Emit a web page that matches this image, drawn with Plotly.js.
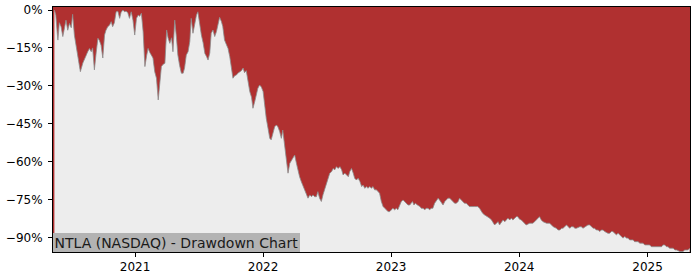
<!DOCTYPE html>
<html>
<head>
<meta charset="utf-8">
<script src="https://cdn.plot.ly/plotly-3.0.1.min.js"></script>
<style>html,body{margin:0;padding:0;background:#fff;}#chart{width:700px;height:280px;}</style>
</head>
<body>
<div id="chart"></div>
<script>
const dates = [
"2020-05-16","2020-05-20","2020-05-24","2020-05-26","2020-05-30","2020-06-04","2020-06-09","2020-06-14","2020-06-18","2020-06-23",
"2020-06-28","2020-07-03","2020-07-07","2020-07-12","2020-07-17","2020-07-22","2020-07-29","2020-08-05","2020-08-14","2020-08-19",
"2020-08-24","2020-08-29","2020-09-02","2020-09-07","2020-09-12","2020-09-17","2020-09-21","2020-09-26","2020-10-01","2020-10-06",
"2020-10-10","2020-10-15","2020-10-20","2020-10-25","2020-10-29","2020-11-03","2020-11-08","2020-11-13","2020-11-18","2020-11-22",
"2020-11-27","2020-12-02","2020-12-06","2020-12-11","2020-12-16","2020-12-21","2020-12-26","2020-12-31","2021-01-05","2021-01-10",
"2021-01-14","2021-01-19","2021-01-24","2021-01-29","2021-02-03","2021-02-07","2021-02-12","2021-02-16","2021-02-21","2021-02-26",
"2021-03-03","2021-03-08","2021-03-12","2021-03-17","2021-03-22","2021-03-27","2021-04-01","2021-04-05","2021-04-10","2021-04-15",
"2021-04-19","2021-04-24","2021-04-29","2021-05-03","2021-05-08","2021-05-13","2021-05-18","2021-05-22","2021-05-27","2021-06-01",
"2021-06-06","2021-06-10","2021-06-15","2021-06-20","2021-06-25","2021-06-29","2021-07-04","2021-07-09","2021-07-14","2021-07-19",
"2021-07-24","2021-07-28","2021-08-02","2021-08-06","2021-08-11","2021-08-16","2021-08-21","2021-08-25","2021-08-30","2021-09-04",
"2021-09-08","2021-09-13","2021-09-18","2021-09-23","2021-09-28","2021-10-03","2021-10-07","2021-10-12","2021-10-17","2021-10-21",
"2021-10-26","2021-10-31","2021-11-05","2021-11-09","2021-11-14","2021-11-19","2021-11-24","2021-11-29","2021-12-03","2021-12-08",
"2021-12-13","2021-12-17","2021-12-22","2021-12-27","2022-01-01","2022-01-05","2022-01-10","2022-01-15","2022-01-20","2022-01-24",
"2022-01-29","2022-02-03","2022-02-08","2022-02-12","2022-02-17","2022-02-22","2022-02-26","2022-03-04","2022-03-09","2022-03-13",
"2022-03-18","2022-03-23","2022-03-28","2022-04-01","2022-04-06","2022-04-10","2022-04-15","2022-04-20","2022-04-25","2022-04-29",
"2022-05-04","2022-05-09","2022-05-14","2022-05-19","2022-05-23","2022-05-28","2022-06-02","2022-06-06","2022-06-11","2022-06-16",
"2022-06-21","2022-06-26","2022-06-30","2022-07-05","2022-07-10","2022-07-15","2022-07-20","2022-07-24","2022-07-29","2022-08-03",
"2022-08-08","2022-08-13","2022-08-17","2022-08-22","2022-08-27","2022-09-01","2022-09-05","2022-09-10","2022-09-15","2022-09-19",
"2022-09-24","2022-09-29","2022-10-04","2022-10-09","2022-10-13","2022-10-18","2022-10-23","2022-10-27","2022-11-01","2022-11-06",
"2022-11-10","2022-11-15","2022-11-20","2022-11-24","2022-11-29","2022-12-04","2022-12-09","2022-12-14","2022-12-18","2022-12-23",
"2022-12-28","2023-01-02","2023-01-06","2023-01-11","2023-01-16","2023-01-20","2023-01-25","2023-01-30","2023-02-04","2023-02-09",
"2023-02-13","2023-02-18","2023-02-23","2023-02-27","2023-03-03","2023-03-07","2023-03-11","2023-03-17","2023-03-24","2023-03-28",
"2023-04-02","2023-04-07","2023-04-11","2023-04-16","2023-04-21","2023-04-25","2023-04-30","2023-05-05","2023-05-10","2023-05-15",
"2023-05-19","2023-05-24","2023-05-29","2023-06-03","2023-06-08","2023-06-12","2023-06-17","2023-06-22","2023-06-26","2023-07-01",
"2023-07-06","2023-07-11","2023-07-15","2023-07-20","2023-07-25","2023-07-29","2023-08-03","2023-08-08","2023-08-12","2023-08-27",
"2023-09-05","2023-09-10","2023-09-15","2023-09-19","2023-09-24","2023-10-04","2023-10-09","2023-10-14","2023-10-18","2023-10-23",
"2023-10-28","2023-11-02","2023-11-06","2023-11-11","2023-11-16","2023-11-21","2023-11-25","2023-11-30","2023-12-05","2023-12-10",
"2023-12-14","2023-12-19","2023-12-24","2023-12-28","2024-01-02","2024-01-07","2024-01-11","2024-01-21","2024-01-31","2024-02-09",
"2024-02-14","2024-02-19","2024-02-23","2024-02-28","2024-03-04","2024-03-09","2024-03-19","2024-03-28","2024-04-02","2024-04-07",
"2024-04-16","2024-04-21","2024-04-26","2024-05-01","2024-05-05","2024-05-10","2024-05-15","2024-05-20","2024-05-24","2024-05-29",
"2024-06-03","2024-06-08","2024-06-12","2024-06-22","2024-06-26","2024-07-01","2024-07-06","2024-07-15","2024-07-20","2024-07-25",
"2024-07-30","2024-08-03","2024-08-08","2024-08-13","2024-08-18","2024-08-22","2024-08-27","2024-09-01","2024-09-10","2024-09-15",
"2024-09-20","2024-09-24","2024-09-29","2024-10-04","2024-10-09","2024-10-14","2024-10-18","2024-10-23","2024-10-28","2024-11-02",
"2024-11-06","2024-11-11","2024-11-21","2024-11-25","2024-12-05","2024-12-10","2024-12-19","2024-12-24","2025-01-07","2025-01-12",
"2025-02-10","2025-02-14","2025-02-19","2025-02-24","2025-02-28","2025-03-05","2025-03-15","2025-03-20","2025-03-25","2025-04-03",
"2025-04-12","2025-04-17","2025-04-26","2025-05-01"
];
const drawdownPct = [
0,-2,-9,-11.9,-5,-6.6,-10.5,-6,-4,-8,
-5.3,-7,-1.7,-10,-13.8,-17.8,-24.4,-21,-17.8,-16.5,
-15.2,-16.5,-15,-23.7,-17,-11.2,-12,-13.9,-19,-9.9,
-8,-6.6,-6,-4.6,-6.6,-5,-0.7,-0.5,-3.3,-1,
0,-0.7,-0.5,-1,-3.3,-0.7,-4,-9.9,-3.3,-2,
-2.5,-1.3,-8.6,-22.4,-18,-15.2,-16.8,-17.8,-19,-24.4,
-27,-35.6,-28,-22.4,-21.5,-21.1,-7.9,-11,-13.2,-11,
-16.5,-4,-11,-17.8,-22,-25,-25,-23,-17.8,-16.5,
-12.5,-3.3,-9.2,-5,-2,-0.7,-6,-9.9,-13,-17.2,
-18.5,-19.8,-17,-9.2,-7.9,-10.5,-8.5,-6,-2.9,-4.5,
-6.5,-11.9,-13.5,-15.2,-18.5,-22.4,-27,-26,-25.7,-25,
-24.4,-24,-23,-24.8,-24,-28.4,-32.3,-34.5,-38.9,-36.3,
-33,-31,-29.7,-30.5,-32.3,-38.3,-42.9,-46.8,-50.8,-51.4,
-48.8,-46.2,-45.5,-46.2,-48,-50.8,-47.5,-55.4,-60,-64.6,
-60.7,-59.4,-58.5,-57.4,-60.7,-63.3,-66,-68,-69.9,-71,
-72.5,-74.5,-73.2,-73.9,-73.2,-73.9,-73.9,-71.9,-74.5,-75.8,
-73,-70.6,-68.6,-66,-64.6,-64,-62.7,-63.3,-62,-62.7,
-62,-63.3,-65.3,-64.6,-65.3,-66,-64,-62.7,-64.6,-66.6,
-67.3,-66.6,-67.9,-69.9,-69.3,-70.6,-69.9,-70.6,-69.9,-70.6,
-69.9,-71.2,-71.2,-71.9,-72.5,-75.8,-77.8,-78.5,-79.1,-79.8,
-79.8,-79.1,-78.5,-79.1,-78.5,-79.1,-77.2,-75.8,-75.2,-75.8,
-76.5,-77.2,-77.2,-76.5,-75.8,-77.2,-76.5,-77.2,-77.8,-78.5,
-78.5,-79.1,-78.5,-78.5,-79.1,-78.5,-78.5,-76.5,-75.2,-74.5,
-75.2,-76.5,-77.2,-75.8,-75.2,-74.5,-74.5,-75.2,-75.8,-76.5,
-76.5,-75.8,-74.5,-75.2,-75.8,-76.5,-76.5,-77.2,-77.8,-77.8,
-77.8,-78.5,-79.8,-80.5,-81.1,-81.8,-82.4,-83.1,-83.8,-85.1,
-84.4,-83.8,-85.1,-83.8,-83.1,-83.8,-83.1,-82.4,-83.1,-82.4,
-83.1,-82.4,-81.8,-81.8,-82.8,-83.1,-83.8,-85.1,-84.4,-84.4,
-83.8,-83.1,-82.4,-81.8,-83.1,-83.8,-84.4,-84.4,-85.1,-85.8,
-86.4,-87.1,-87.1,-86.4,-86.4,-85.8,-85.1,-85.8,-86.4,-85.8,
-85.8,-86.4,-86.4,-85.8,-85.8,-86.4,-85.8,-85.1,-85.1,-85.8,
-86.4,-86.4,-87.1,-87.1,-87.7,-87.1,-87.1,-87.7,-88.4,-88.4,
-87.7,-87.7,-88.4,-89,-88.4,-89,-89.7,-90.3,-89.7,-90.3,
-90.3,-91,-91,-91.7,-91.7,-92.3,-92.3,-93,-93,-93.7,
-93.7,-93,-93,-93.7,-93.7,-94.3,-94.3,-95,-95,-95.6,
-95.6,-95,-95,-94.3
];
const yTickVals = [0,-15,-30,-45,-60,-75,-90];
const yTickText = ["0%","\u221215%","\u221230%","\u221245%","\u221260%","\u221275%","\u221290%"];
const xTickVals = ["2021-01-01","2022-01-01","2023-01-01","2024-01-01","2025-01-01"];
const xTickText = ["2021","2022","2023","2024","2025"];
const chartLabel = "NTLA (NASDAQ) - Drawdown Chart";

const Y_MIN = -95.8, Y_MAX = 1.2;
const floorVals = dates.map(() => -100);

const font = {family: "DejaVu Sans, sans-serif", size: 12, color: "#000"};
const traces = [
  {x: dates, y: floorVals, type: "scatter", mode: "lines", line: {width: 0, color: "rgba(0,0,0,0)"}, hoverinfo: "skip", showlegend: false},
  {x: dates, y: drawdownPct, type: "scatter", mode: "lines", fill: "tonexty", fillcolor: "#EDEDED",
   line: {color: "#8c8c8c", width: 0.8}, showlegend: false}
];
const layout = {
  width: 700, height: 280,
  margin: {l: 53, r: 10, t: 7, b: 28},
  paper_bgcolor: "#ffffff",
  plot_bgcolor: "#B03030",
  font: font,
  showlegend: false,
  xaxis: {type: "date", range: ["2020-05-12", "2025-05-02"], tickvals: xTickVals, ticktext: xTickText,
    showgrid: false, zeroline: false, showline: true, linecolor: "#000", linewidth: 1, mirror: true,
    ticks: "outside", ticklen: 4, tickcolor: "#000", tickwidth: 1, tickfont: font},
  yaxis: {range: [Y_MIN, Y_MAX], tickvals: yTickVals, ticktext: yTickText,
    showgrid: false, zeroline: false, showline: true, linecolor: "#000", linewidth: 1, mirror: true,
    ticks: "outside", ticklen: 4, tickcolor: "#000", tickwidth: 1, tickfont: font, ticklabelstandoff: 3},
  annotations: [{
    text: chartLabel, xref: "paper", yref: "paper", x: 0, y: 0, xanchor: "left", yanchor: "bottom",
    showarrow: false, bgcolor: "#B3B3B3", borderpad: 1.5, borderwidth: 0,
    font: {family: "DejaVu Sans, sans-serif", size: 14, color: "#1a1a1a"}
  }]
};
Plotly.newPlot("chart", traces, layout, {displayModeBar: false, staticPlot: true});
</script>
</body>
</html>
